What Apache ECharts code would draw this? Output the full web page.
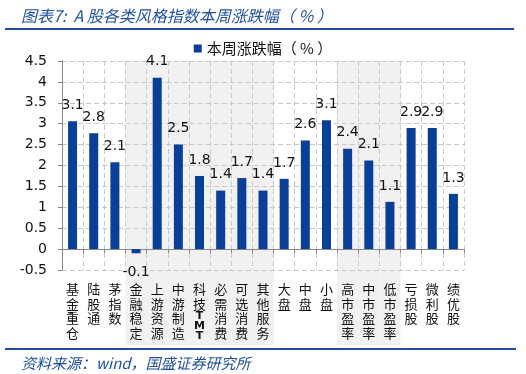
<!DOCTYPE html>
<html><head><meta charset="utf-8">
<script src="https://cdn.jsdelivr.net/npm/echarts@6/dist/echarts.min.js"></script>
<style>html,body{margin:0;padding:0;background:#fff}#c{width:526px;height:374px}</style>
</head><body><div id="c"></div>
<script>
var categories = ['基金重仓','陆股通','茅指数','金融稳定','上游资源','中游制造','科技TMT','必需消费','可选消费','其他服务','大盘','中盘','小盘','高市盈率','中市盈率','低市盈率','亏损股','微利股','绩优股'];
var values = [3.06, 2.77, 2.08, -0.1, 4.1, 2.5, 1.75, 1.4, 1.7, 1.4, 1.68, 2.6, 3.08, 2.4, 2.12, 1.13, 2.9, 2.9, 1.32];
var shadedIdx = [3,4,5,6,7,8,9,13,14,15];
var yTicks = {min: -0.5, max: 4.5, interval: 0.5};
var seriesName = '本周涨跌幅（ % ）';

var chart = echarts.init(document.getElementById('c'), null, {renderer: 'canvas'});
var cjk = '"Noto Sans CJK SC", sans-serif';
var num = '"DejaVu Sans", sans-serif';
var blue = '#1f4f9f';

function catLabel(v) {
  if (v === '科技TMT') return '科\n技\n{t|T}\n{t|M}\n{t|T}';
  return v.split('').join('\n');
}

chart.setOption({
  animation: false,
  title: [{
    text: '图表7:  A 股各类风格指数本周涨跌幅（ % ）',
    left: 16, top: 3,
    textStyle: {fontFamily: cjk, fontSize: 16, fontStyle: 'italic', fontWeight: 'normal', color: blue}
  }, {
    text: '资料来源：wind，国盛证券研究所',
    left: 16, top: 351,
    textStyle: {fontFamily: cjk, fontSize: 15, fontStyle: 'italic', fontWeight: 'normal', color: blue}
  }],
  graphic: [
    {type: 'line', shape: {x1: 5, y1: 29, x2: 514, y2: 29}, style: {stroke: blue, lineWidth: 2}},
    {type: 'line', shape: {x1: 5, y1: 349, x2: 516, y2: 349}, style: {stroke: blue, lineWidth: 2}}
  ],
  legend: {
    data: [seriesName], top: 36, left: 'center',
    icon: 'rect', itemWidth: 8, itemHeight: 8, itemGap: 5,
    textStyle: {fontFamily: cjk, fontSize: 15, color: '#111'}
  },
  grid: {left: 62, right: 62, top: 61, bottom: 104},
  xAxis: {
    type: 'category', data: categories,
    axisLine: {onZero: true, lineStyle: {color: '#888', width: 1}},
    axisTick: {show: true, length: 4, lineStyle: {color: '#888'}},
    splitLine: {show: true, lineStyle: {color: '#c8c8c8', type: [5, 3], width: 1}},
    axisLabel: {
      interval: 0, margin: 12, formatter: catLabel,
      fontFamily: cjk, fontSize: 13, lineHeight: 14.5, color: '#111',
      rich: {t: {fontFamily: num, fontSize: 11, lineHeight: 10, fontWeight: 'bold', color: '#111'}}
    }
  },
  yAxis: {
    type: 'value', min: yTicks.min, max: yTicks.max, interval: yTicks.interval,
    axisLine: {show: true, lineStyle: {color: '#888'}},
    axisTick: {show: true, length: 4, lineStyle: {color: '#888'}},
    splitLine: {show: true, lineStyle: {color: '#c8c8c8', type: [5, 3], width: 1}},
    axisLabel: {margin: 15, fontFamily: num, fontSize: 14, color: '#111',
      formatter: function (v) { return String(Math.round(v * 10) / 10); }}
  },
  series: [{
    type: 'custom', name: 'shade', z: -1, silent: true, clip: false,
    data: shadedIdx.map(function (i) { return [i]; }),
    encode: {x: 0},
    renderItem: function (params, api) {
      var i = api.value(0);
      var top = api.coord([i, yTicks.max]);
      var bot = api.coord([i, yTicks.min]);
      var w = api.size([1, 0])[0];
      return {type: 'rect', shape: {x: top[0] - w / 2, y: top[1], width: w, height: bot[1] - top[1] + 75},
        style: {fill: '#f1f1f1'}};
    }
  }, {
    type: 'bar', name: seriesName, barWidth: 9,
    data: values.map(function (v) {
      return v < 0 ? {value: v, label: {position: 'bottom', distance: 12}} : v;
    }),
    itemStyle: {color: '#0a3f98'},
    label: {
      show: true, position: 'top', distance: 9,
      fontFamily: num, fontSize: 14, color: '#111',
      formatter: function (p) { return (Math.round(p.value * 10) / 10).toFixed(1); }
    }
  }]
});
</script></body></html>
